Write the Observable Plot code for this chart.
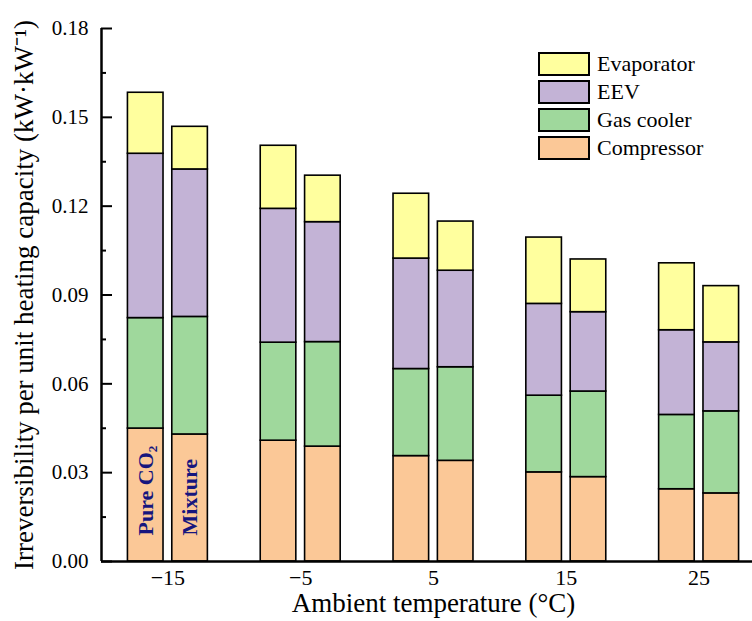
<!DOCTYPE html>
<html>
<head>
<meta charset="utf-8">
<script src="https://cdn.jsdelivr.net/npm/d3@7"></script>
<script src="https://cdn.jsdelivr.net/npm/@observablehq/plot@0.6"></script>
<style>
  html, body { margin: 0; padding: 0; background: #fff; overflow: hidden; width: 752px; height: 621px; }
  #wrap { position: relative; width: 765px; height: 621px; }
  #wrap svg { display: block; }
  .legend { position: absolute; left: 538px; top: 52px; font-family: "Liberation Serif", "Times New Roman", serif; font-size: 22px; color: #000; }
  .legend .row { display: flex; align-items: center; height: 24px; margin-bottom: 4px; }
  .legend .sw { width: 52px; height: 24px; box-sizing: border-box; border: 2px solid #000; margin-right: 7px; }
</style>
</head>
<body>
<div id="wrap"></div>
<script>
// ---- data ----
const temps = [-15, -5, 5, 15, 25];
const systems = ["Pure CO\u2082", "Mixture"];
const components = ["Compressor", "Gas cooler", "EEV", "Evaporator"]; // bottom -> top
const legendOrder = ["Evaporator", "EEV", "Gas cooler", "Compressor"];

const compressorPure = [0.0449, 0.0408, 0.0356, 0.0301, 0.0244];
const gasCoolerPure  = [0.0373, 0.0331, 0.0294, 0.0259, 0.0251];
const eevPure        = [0.0555, 0.0452, 0.0373, 0.0310, 0.0286];
const evaporatorPure = [0.0206, 0.0213, 0.0219, 0.0224, 0.0226];

const compressorMix  = [0.0429, 0.0388, 0.0340, 0.0285, 0.0230];
const gasCoolerMix   = [0.0397, 0.0353, 0.0316, 0.0289, 0.0277];
const eevMix         = [0.0498, 0.0405, 0.0326, 0.0268, 0.0233];
const evaporatorMix  = [0.0144, 0.0157, 0.0166, 0.0178, 0.0190];

const yMajor = [0, 0.03, 0.06, 0.09, 0.12, 0.15, 0.18];
const yMinor = [0.015, 0.045, 0.075, 0.105, 0.135, 0.165];
const xTitle = "Ambient temperature (\u00B0C)";
const yTitle = "Irreversibility per unit heating capacity (kW\u00B7kW\u207B\u00B9)";
const labelTemp = -15;

// ---- styles / layout ----
const colors = {"Compressor": "#FBC897", "Gas cooler": "#9FD89C", "EEV": "#C3B3D6", "Evaporator": "#FFFF9E"};
const xDomain = [-20, 30];
const yDomain = [0, 0.18];
const offset = {"Pure CO\u2082": -1.67, "Mixture": 1.67};
const halfW = 1.34;
const font = "'Liberation Serif', 'Times New Roman', serif";

// ---- table ----
const bySystem = {
  "Pure CO\u2082": [compressorPure, gasCoolerPure, eevPure, evaporatorPure],
  "Mixture": [compressorMix, gasCoolerMix, eevMix, evaporatorMix]
};
const rows = [];
for (const s of systems) {
  temps.forEach((t, i) => {
    components.forEach((c, k) => rows.push({system: s, temp: t, component: c, value: bySystem[s][k][i]}));
  });
}

const minus = d => (d < 0 ? "\u2212" + Math.abs(d) : String(d));

const chart = Plot.plot({
  width: 765,
  height: 621,
  marginLeft: 101,
  marginRight: 0,
  marginTop: 28,
  marginBottom: 60,
  style: {fontFamily: font, fontSize: "22px", color: "#000", background: "#fff"},
  x: {domain: xDomain},
  y: {domain: yDomain},
  color: {domain: components, range: components.map(c => colors[c])},
  marks: [
    Plot.rectY(rows, Plot.stackY({
      x1: d => d.temp + offset[d.system] - halfW,
      x2: d => d.temp + offset[d.system] + halfW,
      y: "value",
      fill: "component",
      stroke: "#000",
      strokeWidth: 1.6
    })),
    Plot.text(systems, {
      x: s => labelTemp + offset[s],
      frameAnchor: "bottom",
      dy: -26,
      text: d => d,
      rotate: -90,
      textAnchor: "start",
      lineAnchor: "middle",
      fontWeight: "bold",
      fontSize: 22,
      fill: "#16167e"
    }),
    Plot.ruleY([yDomain[0]], {stroke: "#000", strokeWidth: 2.5}),
    Plot.ruleX([xDomain[0]], {y1: yDomain[0], y2: yDomain[1], stroke: "#000", strokeWidth: 2.5}),
    Plot.axisY({ticks: yMajor, tickSize: 0, tickPadding: 13, tickFormat: d3.format(".2f"), label: null, fontSize: 21}),
    Plot.axisY({ticks: yMajor, tickSize: -11, stroke: "#000", strokeWidth: 2, fill: "none", label: null}),
    Plot.axisY({ticks: yMinor, tickSize: -5, stroke: "#000", strokeWidth: 2, fill: "none", label: null}),
    Plot.axisX({ticks: temps, tickSize: 0, tickPadding: 8, tickFormat: minus, label: null, fontSize: 22}),
    Plot.text([xTitle], {frameAnchor: "bottom", dy: 42, textAnchor: "middle", lineAnchor: "middle", fontSize: 27}),
    Plot.text([yTitle], {frameAnchor: "left", dx: -77, rotate: -90, textAnchor: "middle", lineAnchor: "middle", fontSize: 27})
  ]
});

const wrap = document.getElementById("wrap");
wrap.appendChild(chart);

const legend = document.createElement("div");
legend.className = "legend";
for (const c of legendOrder) {
  const row = document.createElement("div");
  row.className = "row";
  const sw = document.createElement("div");
  sw.className = "sw";
  sw.style.background = colors[c];
  const lab = document.createElement("span");
  lab.textContent = c;
  row.appendChild(sw);
  row.appendChild(lab);
  legend.appendChild(row);
}
wrap.appendChild(legend);
</script>
</body>
</html>
